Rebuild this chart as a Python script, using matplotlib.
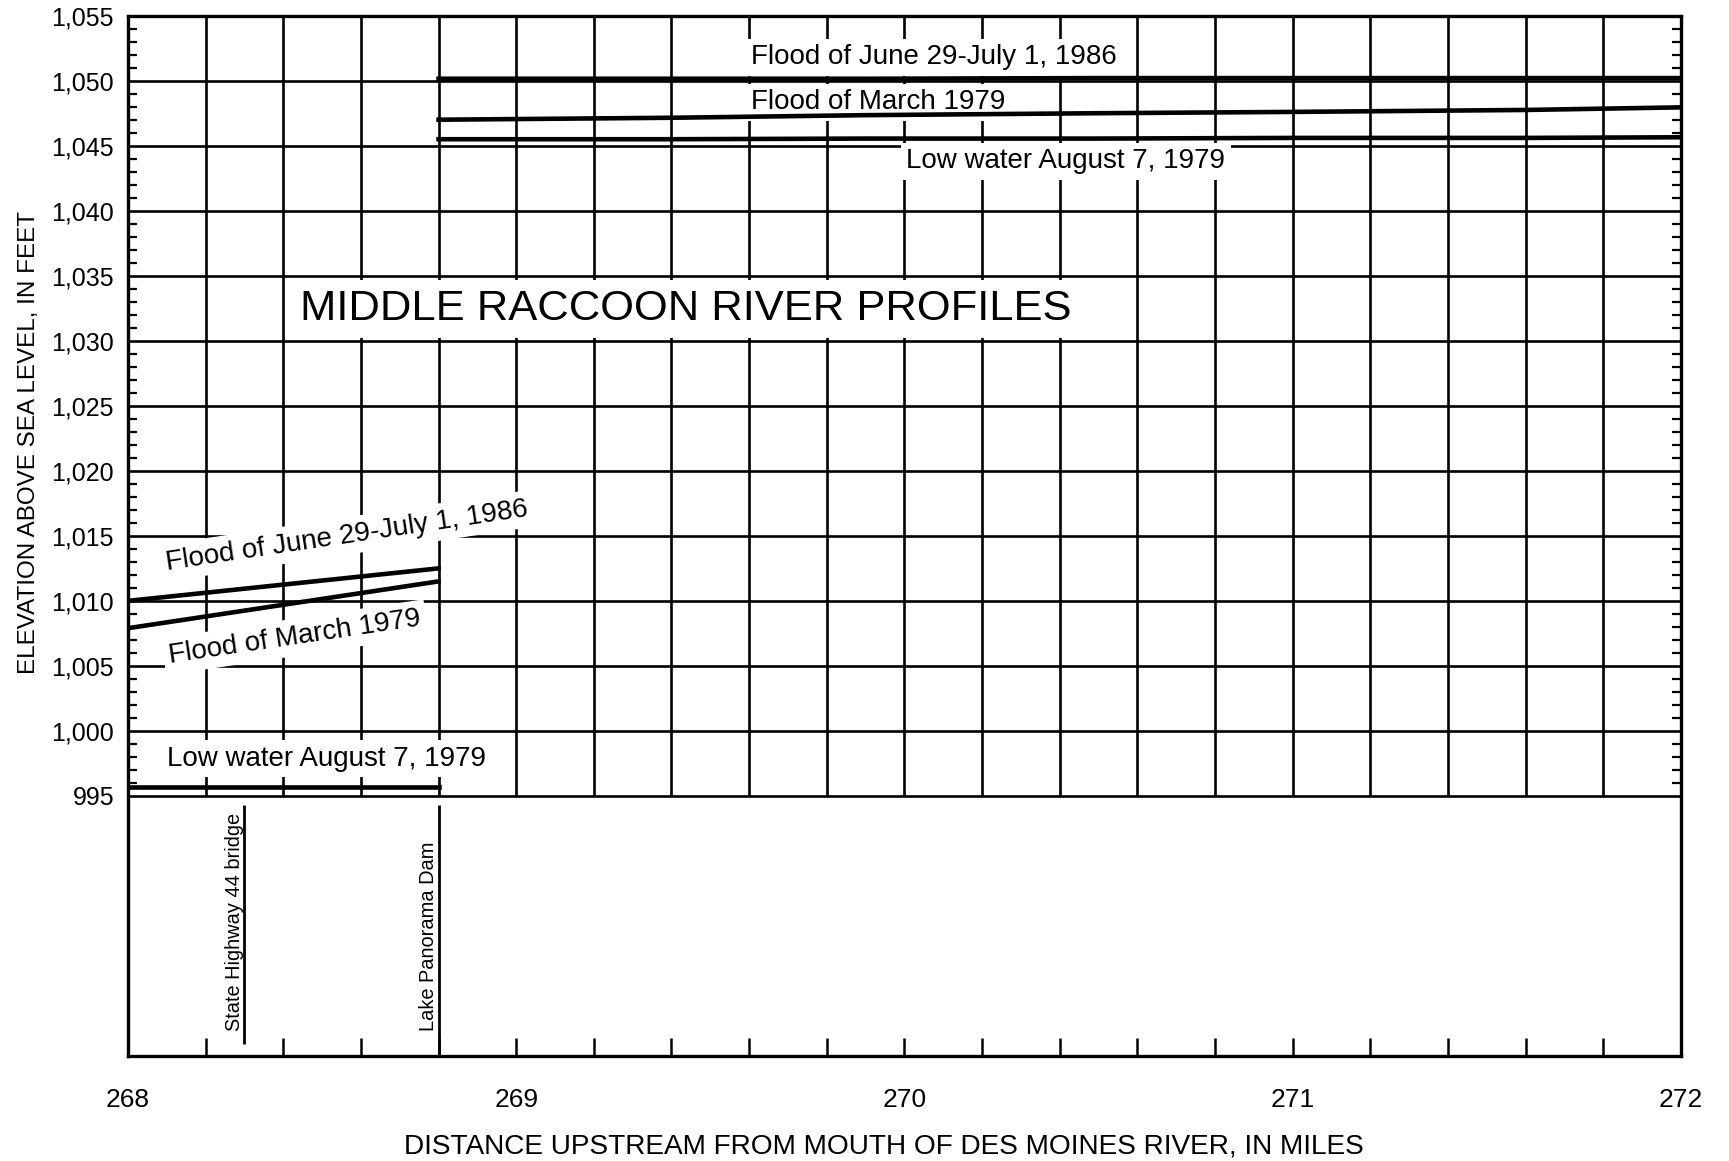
import numpy as np
import matplotlib.pyplot as plt

plt.rcParams['font.family'] = ['Liberation Sans', 'DejaVu Sans']

# water-surface profiles upstream of Lake Panorama Dam (river miles, feet)
miles_up = [268.8, 269.4, 269.9, 270.5, 271.0, 271.6, 272.0]
flood1986_up = [1050.15, 1050.15, 1050.15, 1050.2, 1050.2, 1050.2, 1050.2]
march1979_up = [1047.0, 1047.15, 1047.35, 1047.5, 1047.6, 1047.75, 1047.95]
low1979_up = [1045.5, 1045.5, 1045.55, 1045.55, 1045.6, 1045.6, 1045.65]

# downstream of the dam
miles_dn = [268.0, 268.8]
flood1986_dn = [1010.0, 1012.5]
march1979_dn = [1007.9, 1011.5]
low1979_dn = [995.7, 995.7]

# landmarks drawn below the profile grid
landmark_names = ['State Highway 44 bridge', 'Lake Panorama Dam']
landmark_miles = [268.3, 268.8]
landmark_bottom = [975.9, 975.0]

x_major = [268, 269, 270, 271, 272]
x_grid = [268.2, 268.4, 268.6, 268.8, 269.0, 269.2, 269.4, 269.6, 269.8, 270.0,
          270.2, 270.4, 270.6, 270.8, 271.0, 271.2, 271.4, 271.6, 271.8]
y_major = [995, 1000, 1005, 1010, 1015, 1020, 1025, 1030, 1035, 1040, 1045, 1050, 1055]
y_minor = [v for v in range(996, 1055) if v % 5 != 0]

fig = plt.figure(figsize=(17.29, 11.61), dpi=100)
ax = fig.add_axes([0.0740, 0.0904, 0.8982, 0.8961])
ax.set_xlim(268, 272)
ax.set_ylim(975, 1055)

# grid only covers the elevation part of the plot
ax.vlines(x_grid, y_major[0], y_major[-1], color='black', lw=1.9, zorder=1)
ax.hlines(y_major[:-1], 268, 272, color='black', lw=1.9, zorder=1)

lw = 3.3
ax.plot(miles_up, flood1986_up, color='black', lw=lw, zorder=5)
ax.plot(miles_up, march1979_up, color='black', lw=lw, zorder=5)
ax.plot(miles_up, low1979_up, color='black', lw=lw, zorder=5)
ax.plot(miles_dn, flood1986_dn, color='black', lw=lw, zorder=5)
ax.plot(miles_dn, march1979_dn, color='black', lw=lw, zorder=5)
ax.plot(miles_dn, low1979_dn, color='black', lw=lw, zorder=5)

box = dict(boxstyle='square,pad=0.2', facecolor='white', edgecolor='none')

ax.text(269.436, 1032.45, 'MIDDLE RACCOON RIVER PROFILES', fontsize=31.3,
        ha='center', va='center', bbox=box, zorder=4)

ax.text(269.606, 1051.8, 'Flood of June 29-July 1, 1986', fontsize=20,
        ha='left', va='center', bbox=box, zorder=4)
ax.text(269.606, 1048.35, 'Flood of March 1979', fontsize=20,
        ha='left', va='center', bbox=box, zorder=4)
ax.text(270.005, 1043.8, 'Low water August 7, 1979', fontsize=20,
        ha='left', va='center', bbox=box, zorder=4)

ax.text(268.564, 1015.0, 'Flood of June 29-July 1, 1986', fontsize=20, rotation=8.5,
        rotation_mode='anchor', ha='center', va='center', bbox=box, zorder=4)
ax.text(268.43, 1007.2, 'Flood of March 1979', fontsize=20, rotation=8.5,
        rotation_mode='anchor', ha='center', va='center', bbox=box, zorder=4)
ax.text(268.1, 997.85, 'Low water August 7, 1979', fontsize=20,
        ha='left', va='center', bbox=box, zorder=4)

# landmark lines with their names
for name, m, yb in zip(landmark_names, landmark_miles, landmark_bottom):
    ax.vlines(m, yb, 994.3, color='black', lw=2.0)
    ax.text(m - 0.002, 976.9, name, fontsize=14.4, rotation=90,
            ha='right', va='bottom')

ax.set_xticks(x_major)
ax.set_xticklabels([str(v) for v in x_major])
ax.set_xticks(x_grid, minor=True)
ax.tick_params(axis='x', which='both', direction='in', length=13, width=1.8,
               labelsize=19, pad=23)

ax.set_yticks(y_major)
ax.set_yticklabels([f'{v:,}' for v in y_major])
ax.set_yticks(y_minor, minor=True)
ax.tick_params(axis='y', which='major', length=0, labelsize=18, pad=10)
ax.tick_params(axis='y', which='minor', direction='in', length=6.5, width=1.6,
               left=True, right=True)

for s in ax.spines.values():
    s.set_linewidth(2.4)

ax.set_xlabel('DISTANCE UPSTREAM FROM MOUTH OF DES MOINES RIVER, IN MILES', fontsize=20.2)
ax.xaxis.set_label_coords(0.487, -0.087)
ax.xaxis.label.set_va('center')
ax.set_ylabel('ELEVATION ABOVE SEA LEVEL, IN FEET', fontsize=17.5)
ax.yaxis.set_label_coords(-0.064, 0.59)
ax.yaxis.label.set_va('center')

fig.savefig('out.png', dpi=100)
